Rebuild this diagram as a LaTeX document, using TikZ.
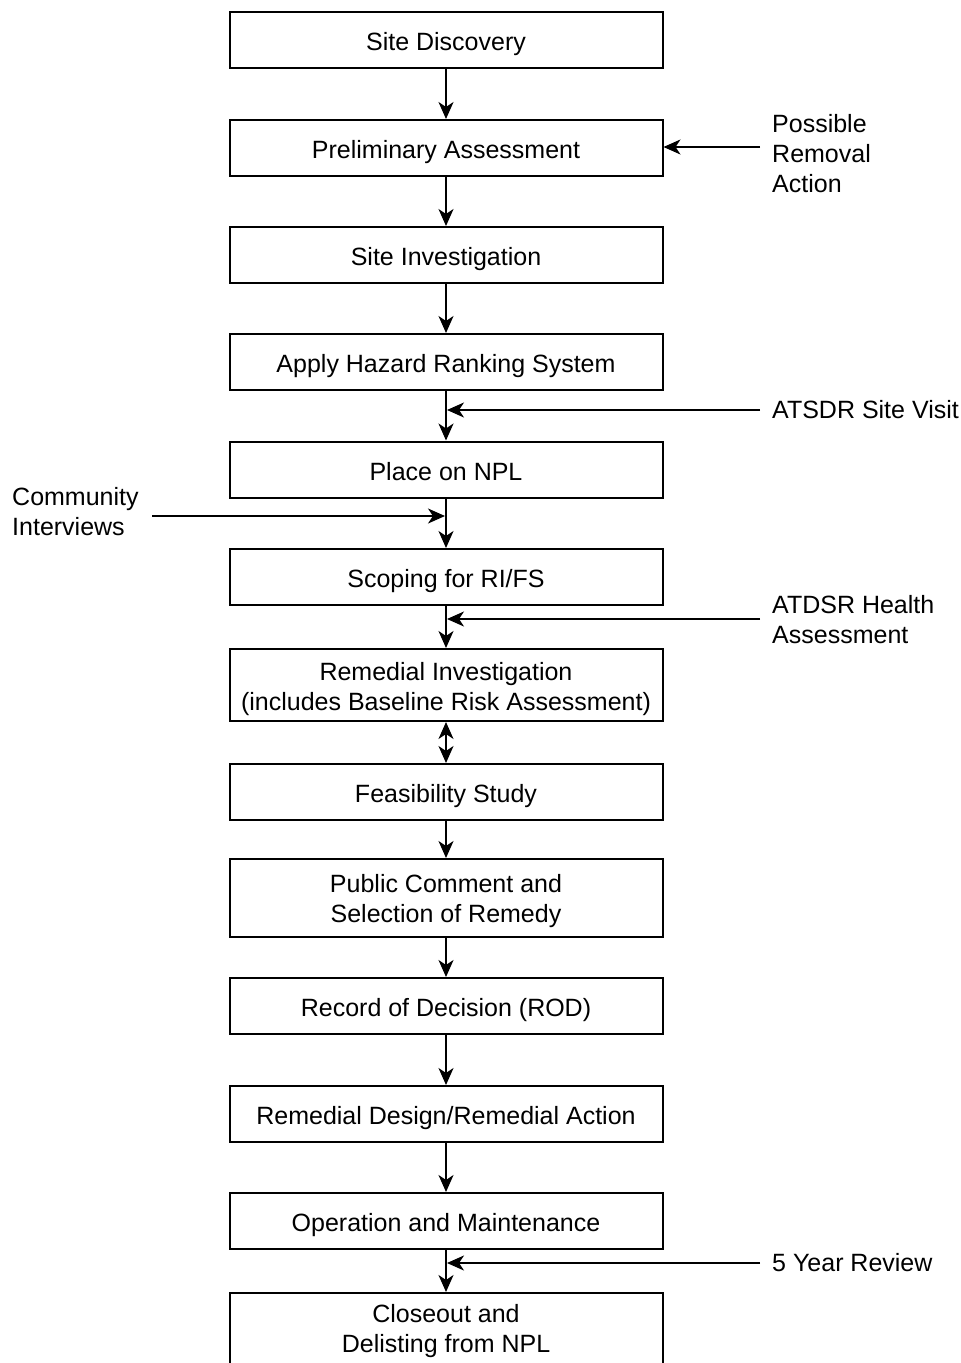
\documentclass[tikz,border=0pt]{standalone}
\usepackage{fontspec}
\setmainfont{Liberation Sans}
\usetikzlibrary{arrows.meta}
\begin{document}
\begin{tikzpicture}[x=1pt,y=-1pt,
  stepbox/.style={draw,line width=2pt,minimum width=433pt,minimum height=56pt,inner sep=0pt,align=center,
    font=\fontsize{25}{30}\selectfont,text height=21pt,text depth=0pt},
  lbl/.style={anchor=south west,inner sep=0pt,align=left,font=\fontsize{25}{30}\selectfont,text depth=0pt},
  arr/.style={line width=2pt,-{Stealth[length=17pt,width=15pt,inset=5pt]}},
  darr/.style={line width=2pt,{Stealth[length=17pt,width=15pt,inset=5pt]}-{Stealth[length=17pt,width=15pt,inset=5pt]}}]
\useasboundingbox (0,0) rectangle (961,1363);
\clip (0,0) rectangle (961,1363);
\node[stepbox] (b1) at (446,40) {Site Discovery};
\node[stepbox] (b2) at (446,148) {Preliminary Assessment};
\node[stepbox] (b3) at (446,255) {Site Investigation};
\node[stepbox] (b4) at (446,362) {Apply Hazard Ranking System};
\node[stepbox] (b5) at (446,469.5) {Place on NPL};
\node[stepbox] (b6) at (446,577) {Scoping for RI/FS};
\node[stepbox,minimum height=72pt,text height=50pt] (b7) at (446,685) {Remedial Investigation\\(includes Baseline Risk Assessment)};
\node[stepbox] (b8) at (446,792) {Feasibility Study};
\node[stepbox,minimum height=78pt,text height=49pt] (b9) at (446,898) {Public Comment and\\Selection of Remedy};
\node[stepbox,minimum height=78pt,text height=40pt] (b13) at (446,1332) {Closeout and\\Delisting from NPL};
\node[stepbox] (b10) at (446,1006) {Record of Decision (ROD)};
\node[stepbox] (b11) at (446,1114) {Remedial Design/Remedial Action};
\node[stepbox] (b12) at (446,1221) {Operation and Maintenance};
% side labels
\node[lbl,text height=78pt] (l1) at (772,193) {Possible\\Removal\\Action};
\node[lbl,text height=18pt] (l2) at (772,419) {ATSDR Site Visit};
\node[lbl,text height=48pt] (l3) at (12,536) {Community\\Interviews};
\node[lbl,text height=48pt] (l4) at (772,644) {ATDSR Health\\Assessment};
\node[lbl,text height=18pt] (l5) at (772,1272) {5 Year Review};
\coordinate (s1) at (760,147);
\coordinate (s2) at (760,410);
\coordinate (s3) at (152,516);
\coordinate (s4) at (760,619);
\coordinate (s5) at (760,1263);
% main arrows
\draw[arr] (b1) -- (b2);
\draw[arr] (b2) -- (b3);
\draw[arr] (b3) -- (b4);
\draw[arr] (b4) -- (b5);
\draw[arr] (b5) -- (b6);
\draw[arr] (b6) -- (b7);
\draw[darr] (b7) -- (b8);
\draw[arr] (b8) -- (b9);
\draw[arr] (b9) -- (b10);
\draw[arr] (b10) -- (b11);
\draw[arr] (b11) -- (b12);
\draw[arr] (b12) -- (b13);
% side arrows
\draw[arr] (s1) -- (s1 -| b2.east);
\draw[arr] (s2) -- ([xshift=1pt]s2 -| b4.south);
\draw[arr] (s3) -- ([xshift=-1pt]s3 -| b5.south);
\draw[arr] (s4) -- ([xshift=1pt]s4 -| b6.south);
\draw[arr] (s5) -- ([xshift=1pt]s5 -| b12.south);
\end{tikzpicture}
\end{document}
